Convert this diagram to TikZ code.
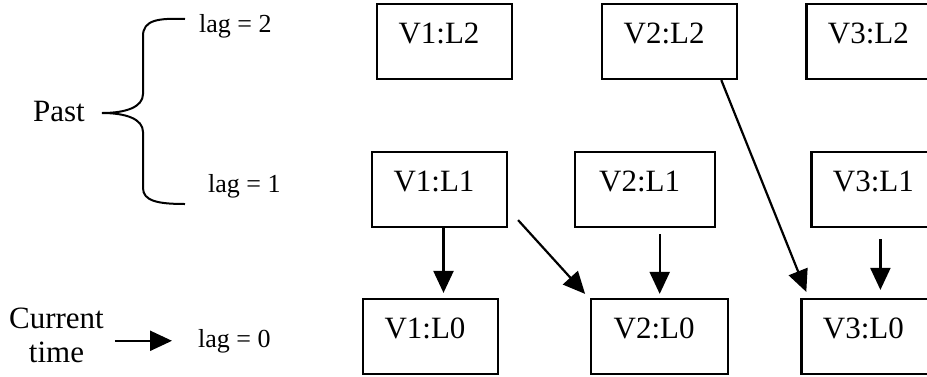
\documentclass[tikz,border=0pt]{standalone}
\usepackage{fontspec}
\setmainfont{Liberation Serif}
\usepackage{tikz}
\usetikzlibrary{arrows.meta, positioning}
\tikzset{varBox/.style={draw, minimum width=135pt, minimum height=75pt, inner xsep=21pt, inner ysep=0pt, text width=92pt, align=left, text height=24pt, text depth=19.5pt, font=\fontsize{31}{36}\selectfont}}
\tikzset{lagText/.style={anchor=base west, inner sep=0pt, font=\fontsize{26}{30}\selectfont}}

\begin{document}
\begin{tikzpicture}[x=1pt, y=-1pt, >={Triangle[length=22pt, width=20pt]}, line width=2.2pt]
\useasboundingbox (0,0) rectangle (927,376);
\node[varBox] (v1l2) at (444.5,41.5) {V1:L2};
\node[varBox, right=88pt of v1l2] (v2l2) {V2:L2};
\node[varBox, right=67pt of v2l2] (v3l2) {V3:L2};
\node[varBox] (v1l1) at (439.5,189.5) {V1:L1};
\node[varBox, right=66pt of v1l1, minimum width=140pt] (v2l1) {V2:L1};
\node[varBox, right=94pt of v2l1] (v3l1) {V3:L1};
\node[varBox] (v1l0) at (430.5,336.5) {V1:L0};
\node[varBox, right=91pt of v1l0, minimum width=137pt] (v2l0) {V2:L0};
\node[varBox, right=71pt of v2l0] (v3l0) {V3:L0};
\node[lagText] (lag2) at (198,32) {lag = 2};
\node[lagText] (lag1) at (207,192) {lag = 1};
\node[lagText] (lag0) at (197,347) {lag = 0};
\node[anchor=base west, inner sep=0pt, font=\fontsize{31}{36}\selectfont] (past) at (32,121) {Past};
\node[align=center, inner sep=0pt, font=\fontsize{31}{34}\selectfont] (now) at (56.5,335) {Current\\time};
\draw[line width=2pt] (185,19) .. controls (158,18) and (143,20) .. (143,36) -- (143,94) .. controls (143,107) and (126,113) .. (102,113) .. controls (126,113) and (143,119) .. (143,132) -- (143,188) .. controls (143,201) and (158,204) .. (185,204);
\draw[->, shorten <=10pt, shorten >=25pt] (now.east |- lag0.west) -- (lag0.west);
\draw[->, shorten >=5pt] ([xshift=4pt]v1l1.south) -- ([xshift=4pt]v1l1.south |- v1l0.north);
\draw[->, shorten <=6pt, shorten >=4pt] (v2l0.north |- v2l1.south) -- (v2l0.north);
\draw[->, shorten <=11pt, shorten >=8pt] ([xshift=1.5pt]v3l1.south) -- ([xshift=1.5pt]v3l1.south |- v3l0.north);
\draw[->] ([xshift=10pt, yshift=8pt]v1l1.south east) -- ([xshift=-5pt, yshift=4pt]v2l0.north west);
\draw[->] ([xshift=-17pt]v2l2.south east) -- ([xshift=6pt, yshift=6pt]v3l0.north west);
\end{tikzpicture}
\end{document}
